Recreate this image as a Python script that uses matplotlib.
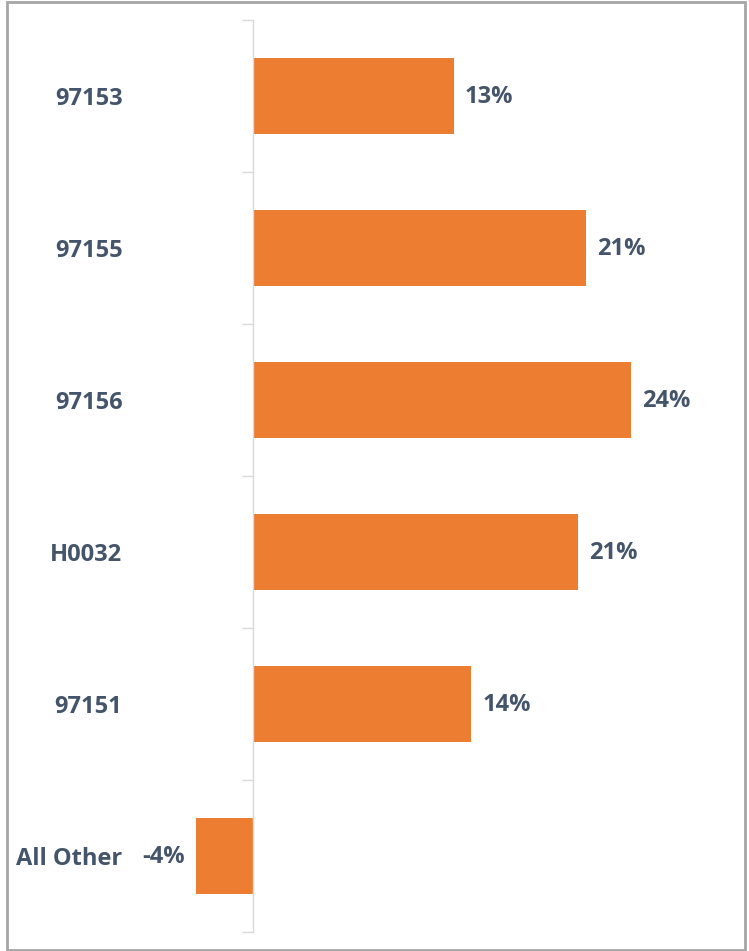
import matplotlib
matplotlib.use("Agg")
import matplotlib.pyplot as plt
from matplotlib.patches import Rectangle

# values (percent change)
categories = ["97153", "97155", "97156", "H0032", "97151", "All Other"]
values = [12.8, 21.2, 24.1, 20.7, 13.9, -3.6]

BAR_COLOR = "#ED7D31"
TEXT_COLOR = "#44546A"
AXIS_COLOR = "#D9D9D9"

W, H = 749, 951
plt.rcParams["font.family"] = ["Open Sans", "DejaVu Sans"]
FS = 17

fig = plt.figure(figsize=(W / 100, H / 100), dpi=100)
x0, x1 = 190, 700   # pixel span of the axes
y_top, y_bot = 20, 932
ax = fig.add_axes([x0 / W, 1 - y_bot / H, (x1 - x0) / W, (y_bot - y_top) / H])

px_per_pct = 15.7
ax.set_xlim((x0 - 253) / px_per_pct, (x1 - 253) / px_per_pct)
ax.set_ylim(len(categories) - 0.5, -0.5)

pos = list(range(len(categories)))
ax.barh(pos, values, height=0.5, color=BAR_COLOR)

for p, v in zip(pos, values):
    label = f"{round(v):d}%"
    if v >= 0:
        ax.annotate(label, (v, p), xytext=(8, -1), textcoords="offset points",
                    ha="left", va="center", fontsize=FS, fontweight="bold",
                    color=TEXT_COLOR)
    else:
        ax.annotate(label, (v, p), xytext=(-8, -1), textcoords="offset points",
                    ha="right", va="center", fontsize=FS, fontweight="bold",
                    color=TEXT_COLOR)

for s in ["top", "right", "bottom"]:
    ax.spines[s].set_visible(False)
ax.spines["left"].set_position(("data", 0))
ax.spines["left"].set_color(AXIS_COLOR)
ax.spines["left"].set_linewidth(1.0)

ax.set_xticks([])
# boundary ticks
ax.set_yticks([i - 0.5 for i in range(len(categories) + 1)])
ax.set_yticklabels([])
ax.tick_params(axis="y", which="major", length=8, color=AXIS_COLOR, width=1)
# category labels
ax.set_yticks(pos, minor=True)
ax.set_yticklabels(categories, minor=True, fontsize=FS, fontweight="bold",
                   color=TEXT_COLOR)
ax.tick_params(axis="y", which="minor", length=0, pad=94)

fig.patches.append(Rectangle((7 / W, 1 / H), 738 / W, 948 / H, transform=fig.transFigure,
                             fill=False, edgecolor="#A6A6A6", linewidth=2))

fig.savefig("out.png", dpi=100)
